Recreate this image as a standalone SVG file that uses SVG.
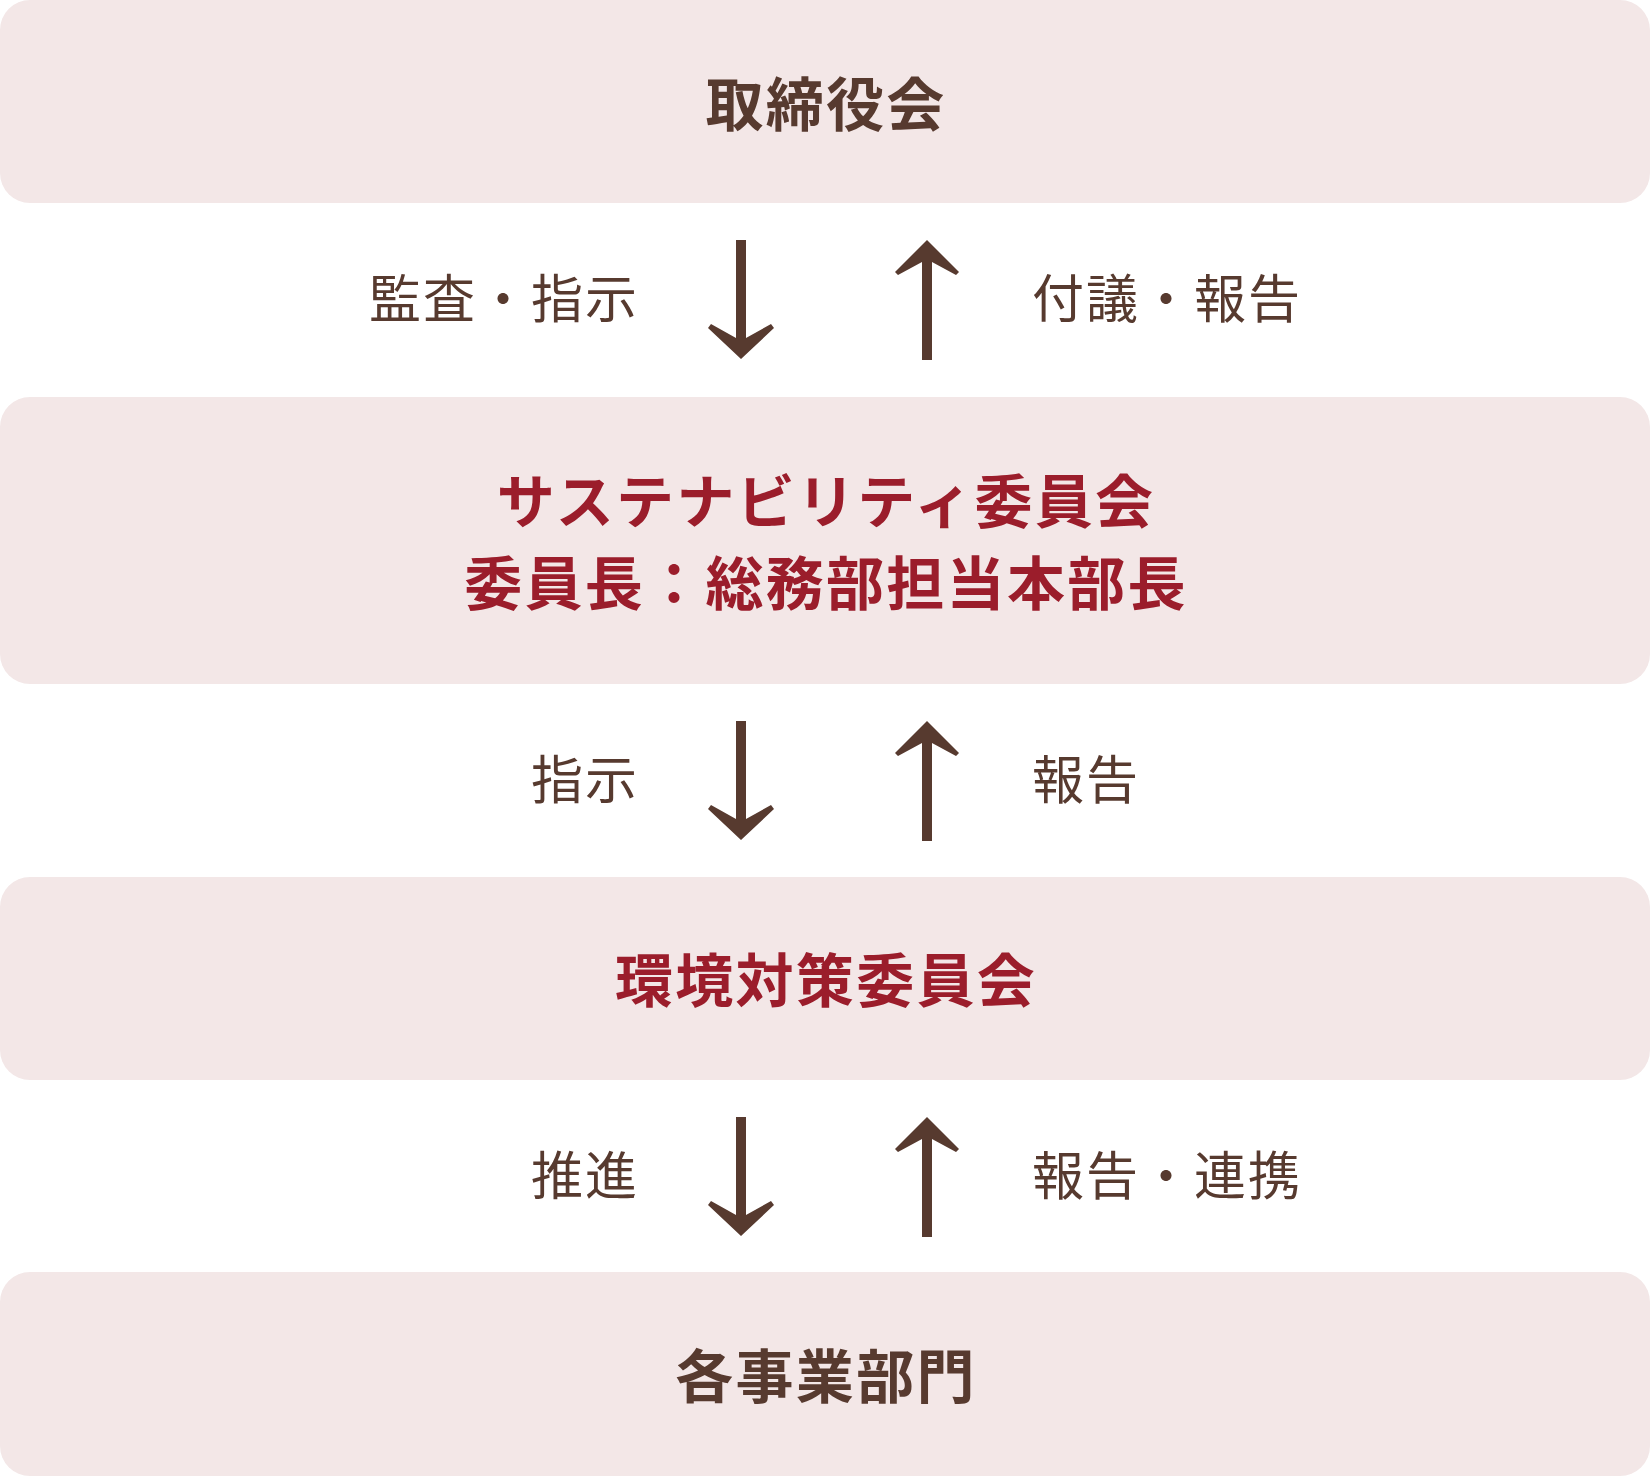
<svg xmlns="http://www.w3.org/2000/svg" width="1650" height="1476" viewBox="0 0 1650 1476">
  <style>
    .box { fill: #f3e7e7; }
    .title { font-family: "Noto Sans CJK JP", "Noto Sans", sans-serif; font-weight: 700; font-size: 58px; letter-spacing: 2.3px; text-anchor: middle; }
    .brown { fill: #573a2f; }
    .red { fill: #9b1d2b; }
    .label { font-family: "Noto Sans CJK JP", "Noto Sans", sans-serif; font-weight: 400; font-size: 52px; letter-spacing: 2px; fill: #573a2f; }
    .left { text-anchor: end; }
    .right { text-anchor: start; }
    .arrow { fill: #573a2f; }
  </style>
  <defs>
    <path id="down" d="M -5 0 L -5 98 L -30 84 L -33 88 L 0 119 L 33 88 L 30 84 L 5 98 L 5 0 Z"/>
    <path id="up" d="M 0 0 L 32 32 L 29 35 L 5 22 L 5 120 L -5 120 L -5 22 L -29 35 L -32 32 Z"/>
  </defs>

  <g id="node-board">
    <rect class="box" x="0" y="0" width="1650" height="203" rx="30"/>
    <text class="title brown" x="826" y="126">取締役会</text>
  </g>

  <g id="node-sustainability">
    <rect class="box" x="0" y="397" width="1650" height="287" rx="30"/>
    <text class="title red" x="826" y="523">サステナビリティ委員会</text>
    <text class="title red" x="826" y="605">委員長：総務部担当本部長</text>
  </g>

  <g id="node-environment">
    <rect class="box" x="0" y="877" width="1650" height="203" rx="30"/>
    <text class="title red" x="826" y="1002">環境対策委員会</text>
  </g>

  <g id="node-divisions">
    <rect class="box" x="0" y="1272" width="1650" height="204" rx="30"/>
    <text class="title brown" x="826" y="1398">各事業部門</text>
  </g>

  <g id="connectors">
    <use href="#down" class="arrow" x="741" y="240"/>
    <use href="#up" class="arrow" x="927" y="240"/>
    <text class="label left" x="639" y="318">監査・指示</text>
    <text class="label right" x="1032" y="318">付議・報告</text>

    <use href="#down" class="arrow" x="741" y="721"/>
    <use href="#up" class="arrow" x="927" y="721"/>
    <text class="label left" x="639" y="799">指示</text>
    <text class="label right" x="1032" y="799">報告</text>

    <use href="#down" class="arrow" x="741" y="1117"/>
    <use href="#up" class="arrow" x="927" y="1117"/>
    <text class="label left" x="639" y="1195">推進</text>
    <text class="label right" x="1032" y="1195">報告・連携</text>
  </g>
</svg>
